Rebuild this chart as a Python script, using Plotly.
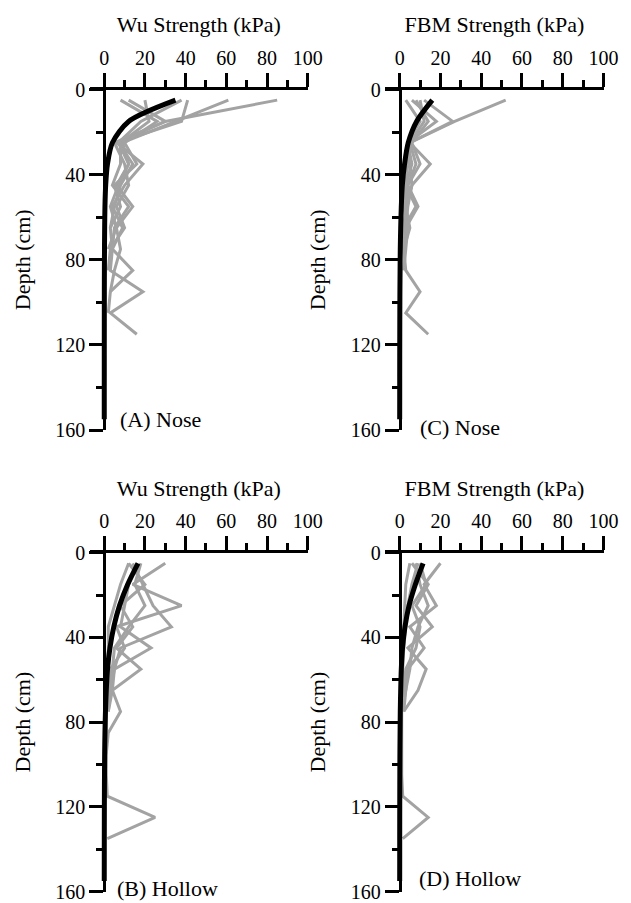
import plotly.graph_objects as go

# ---------------- data ----------------
DEPTH = [5, 15, 25, 35, 45, 55, 65, 75, 85, 95, 105, 115, 125, 135, 145, 155]

X_TICKS = [0, 20, 40, 60, 80, 100]
Y_TICKS = [0, 40, 80, 120, 160]

# (A) Wu strength, Nose - individual profiles (kPa), one value per DEPTH step
WU_NOSE_GRAY = [
    [85, 30, 7, 14, 8, 5, 3],
    [61, 35, 9, 12, 6, 14, 6, 2],
    [41, 38, 6, 19, 10, 4, 9, 4, 14, 3],
    [8, 26, 10, 16, 5, 8, 3, 4, 3, 19, 3, 16],
    [12, 30, 5, 10, 12, 6, 10, 3, 2],
    [20, 22, 8, 8, 4, 12, 5, 4],
    [38, 18, 7, 12, 7, 3, 6, 8, 5, 3, 2],
]
WU_NOSE_MEAN = [35, 12, 4, 1.6, 0.7, 0.35, 0.2, 0.12, 0.08, 0.05, 0.04, 0.03, 0.02, 0.02, 0.01, 0.01]

# (C) FBM strength, Nose
FBM_NOSE_GRAY = [
    [52, 27, 5, 8, 4, 3, 2],
    [12, 26, 5, 15, 6, 4, 3],
    [3, 10, 4, 6, 3, 8, 2, 2],
    [8, 14, 6, 10, 4, 9, 3, 2, 3, 10, 3, 14],
    [6, 18, 4, 5, 6, 3, 5, 2],
    [10, 12, 5, 4, 3, 2, 4, 3, 2],
]
FBM_NOSE_MEAN = [16, 8.3, 4.2, 2.4, 1.3, 0.8, 0.5, 0.3, 0.2, 0.12, 0.08, 0.05, 0.03, 0.02, 0.02, 0.01]

# (B) Wu strength, Hollow
WU_HOLLOW_GRAY = [
    [30, 14, 38, 6, 10, 3, 2, 1],
    [14, 19, 24, 33, 8, 5, 3, 2],
    [16, 12, 10, 8, 23, 5, 4, 2],
    [12, 20, 8, 14, 6, 18, 4, 8, 2, 1],
    [12, 8, 5, 2, 2, 1.5, 1, 1, 1, 1, 1, 1.5, 25, 1.5],
    [18, 15, 20, 12, 5, 4, 3, 1],
]
WU_HOLLOW_MEAN = [16.6, 11.5, 7.5, 4.7, 2.8, 1.6, 1.0, 0.6, 0.35, 0.2, 0.12, 0.08, 0.05, 0.03, 0.02, 0.01]

# (D) FBM strength, Hollow
FBM_HOLLOW_GRAY = [
    [20, 12, 18, 5, 12, 4, 3, 2],
    [6, 14, 8, 16, 4, 13, 9, 2],
    [8, 10, 14, 9, 6, 5, 3, 1],
    [9, 6, 4, 3, 2, 1.5, 1, 1, 1, 1, 1, 1.5, 14, 1.5],
    [5, 3, 2.5, 2, 1.5, 1, 1],
    [10, 13, 6, 10, 8, 3, 2, 1],
]
FBM_HOLLOW_MEAN = [11.5, 7.7, 4.6, 2.6, 1.4, 0.8, 0.5, 0.3, 0.2, 0.12, 0.08, 0.05, 0.03, 0.02, 0.02, 0.01]

TITLES = ["Wu Strength (kPa)", "FBM Strength (kPa)", "Wu Strength (kPa)", "FBM Strength (kPa)"]
LABELS = ["(A) Nose", "(C) Nose", "(B) Hollow", "(D) Hollow"]
Y_TITLE = "Depth (cm)"

# ---------------- styling / layout ----------------
W, H = 631, 903
OFF = 8  # page body margin offset
FONT = "Liberation Serif, Times New Roman, Times, serif"
GRAY = "#A3A3A3"
XMIN, XMAX = -7, 100

panels = [
    dict(gray=WU_NOSE_GRAY, mean=WU_NOSE_MEAN, title=TITLES[0], label=LABELS[0],
         px=(90.0, 307.7), py=(89.5, 430.0), lab=(7, 155)),
    dict(gray=FBM_NOSE_GRAY, mean=FBM_NOSE_MEAN, title=TITLES[1], label=LABELS[1],
         px=(385.4, 603.5), py=(89.5, 430.0), lab=(9, 159)),
    dict(gray=WU_HOLLOW_GRAY, mean=WU_HOLLOW_MEAN, title=TITLES[2], label=LABELS[2],
         px=(90.0, 307.7), py=(552.7, 891.5), lab=(5.5, 158.5)),
    dict(gray=FBM_HOLLOW_GRAY, mean=FBM_HOLLOW_MEAN, title=TITLES[3], label=LABELS[3],
         px=(385.4, 603.5), py=(552.7, 891.5), lab=(8.5, 154)),
]

fig = go.Figure()
layout = {}
annotations = []

for i, p in enumerate(panels, start=1):
    xa = "x" if i == 1 else f"x{i}"
    ya = "y" if i == 1 else f"y{i}"
    for vals in p["gray"]:
        fig.add_trace(go.Scatter(
            x=vals, y=DEPTH[:len(vals)], mode="lines",
            line=dict(color=GRAY, width=3),
            xaxis=xa, yaxis=ya, showlegend=False, hoverinfo="skip"))
    fig.add_trace(go.Scatter(
        x=p["mean"], y=DEPTH[:len(p["mean"])], mode="lines",
        line=dict(color="black", width=5, shape="spline", smoothing=0.8),
        xaxis=xa, yaxis=ya, showlegend=False, hoverinfo="skip"))

    x0, x1 = (v - OFF for v in p["px"])
    y0, y1 = (v - OFF for v in p["py"])
    xdom = [x0 / W, x1 / W]
    ydom = [1 - y1 / H, 1 - y0 / H]
    ypos = (x0 + (0 - XMIN) / (XMAX - XMIN) * (x1 - x0)) / W

    xname = "xaxis" if i == 1 else f"xaxis{i}"
    yname = "yaxis" if i == 1 else f"yaxis{i}"
    layout[xname] = dict(
        domain=xdom, range=[XMIN, XMAX], anchor=ya, side="top",
        showline=True, linewidth=3, linecolor="black",
        ticks="outside", ticklen=14, tickwidth=3, tickcolor="black",
        tickvals=X_TICKS, ticktext=[str(v) for v in X_TICKS],
        minor=dict(tickvals=[10, 30, 50, 70, 90], ticks="outside", ticklen=7,
                   tickwidth=3, tickcolor="black", showgrid=False),
        showgrid=False, zeroline=False,
        tickfont=dict(family=FONT, size=20, color="black"),
        title=dict(text=p["title"], font=dict(family=FONT, size=22, color="black"), standoff=8),
        automargin=False,
    )
    layout[yname] = dict(
        domain=ydom, range=[160, 0], anchor="free", position=ypos,
        showline=True, linewidth=3, linecolor="black",
        ticks="outside", ticklen=14, tickwidth=3, tickcolor="black",
        tickvals=Y_TICKS, ticktext=[str(v) for v in Y_TICKS],
        minor=dict(tickvals=[20, 60, 100, 140], ticks="outside", ticklen=7,
                   tickwidth=3, tickcolor="black", showgrid=False),
        showgrid=False, zeroline=False,
        tickfont=dict(family=FONT, size=20, color="black"),
        title=dict(text=Y_TITLE, font=dict(family=FONT, size=22, color="black"), standoff=17),
        automargin=False,
    )
    annotations.append(dict(
        x=p["lab"][0], y=p["lab"][1], xref=xa, yref=ya, text=p["label"],
        showarrow=False, xanchor="left", yanchor="middle",
        font=dict(family=FONT, size=22, color="black")))

fig.update_layout(
    width=W, height=H,
    margin=dict(l=0, r=0, t=0, b=0),
    paper_bgcolor="white", plot_bgcolor="white",
    showlegend=False,
    annotations=annotations,
    **layout,
)

fig.write_html("out.html")
